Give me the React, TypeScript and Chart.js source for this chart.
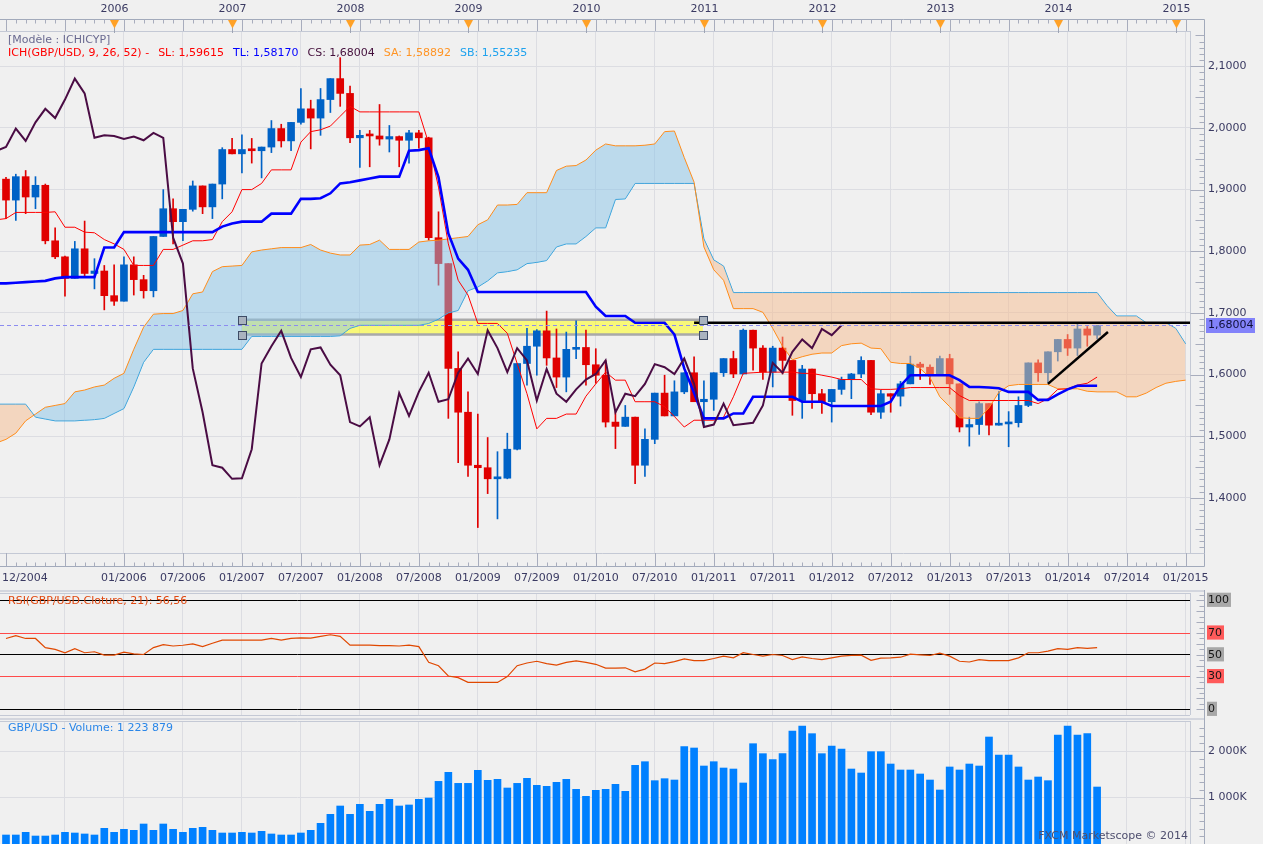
import React, { useEffect, useRef } from "react";
import { Chart, registerables } from "chart.js";

Chart.register(...registerables);

// ---------------- DATA (month index 0 = 01/2005) ----------------
const OPEN = [
  1.917, 1.883, 1.921, 1.888, 1.907, 1.817, 1.791, 1.756, 1.804, 1.764,
  1.768, 1.728, 1.719, 1.778, 1.754, 1.736, 1.824, 1.869, 1.848, 1.868,
  1.906, 1.872, 1.909, 1.965, 1.958, 1.965, 1.963, 1.969, 1.999, 1.979,
  2.009, 2.031, 2.016, 2.046, 2.080, 2.056, 1.984, 1.988, 1.987, 1.982,
  1.986, 1.980, 1.992, 1.984, 1.822, 1.780, 1.610, 1.539, 1.453, 1.449,
  1.431, 1.432, 1.479, 1.618, 1.646, 1.671, 1.627, 1.596, 1.641, 1.644,
  1.616, 1.599, 1.523, 1.516, 1.531, 1.453, 1.495, 1.570, 1.533, 1.572,
  1.603, 1.556, 1.560, 1.603, 1.626, 1.601, 1.672, 1.643, 1.604, 1.643,
  1.623, 1.558, 1.609, 1.569, 1.556, 1.576, 1.592, 1.601, 1.623, 1.539,
  1.569, 1.565, 1.585, 1.617, 1.612, 1.601, 1.626, 1.585, 1.515, 1.519,
  1.553, 1.518, 1.520, 1.522, 1.550, 1.619, 1.603, 1.637, 1.657, 1.643,
  1.674, 1.664,
];
const HIGH = [
  1.920, 1.925, 1.931, 1.921, 1.909, 1.838, 1.792, 1.816, 1.849, 1.788,
  1.777, 1.778, 1.791, 1.791, 1.761, 1.824, 1.900, 1.885, 1.868, 1.914,
  1.906, 1.909, 1.968, 1.983, 1.989, 1.983, 1.969, 2.012, 2.006, 2.009,
  2.064, 2.045, 2.064, 2.080, 2.114, 2.068, 1.996, 1.996, 2.038, 2.004,
  1.987, 1.996, 1.996, 1.985, 1.864, 1.780, 1.637, 1.572, 1.536, 1.498,
  1.475, 1.505, 1.618, 1.675, 1.673, 1.703, 1.674, 1.669, 1.687, 1.672,
  1.642, 1.623, 1.540, 1.550, 1.531, 1.512, 1.570, 1.599, 1.590, 1.603,
  1.629, 1.590, 1.603, 1.626, 1.638, 1.674, 1.672, 1.647, 1.646, 1.661,
  1.623, 1.615, 1.609, 1.576, 1.576, 1.596, 1.602, 1.629, 1.623, 1.575,
  1.569, 1.589, 1.630, 1.620, 1.616, 1.630, 1.633, 1.585, 1.531, 1.556,
  1.553, 1.573, 1.540, 1.564, 1.619, 1.624, 1.637, 1.657, 1.665, 1.683,
  1.678, 1.680,
];
const LOW = [
  1.853, 1.850, 1.861, 1.869, 1.812, 1.788, 1.727, 1.756, 1.758, 1.739,
  1.705, 1.712, 1.719, 1.729, 1.724, 1.726, 1.824, 1.812, 1.817, 1.865,
  1.861, 1.853, 1.885, 1.958, 1.927, 1.943, 1.919, 1.960, 1.969, 1.963,
  2.006, 1.966, 1.988, 2.025, 2.035, 1.976, 1.936, 1.937, 1.972, 1.961,
  1.937, 1.943, 1.967, 1.818, 1.745, 1.529, 1.457, 1.435, 1.352, 1.407,
  1.366, 1.431, 1.478, 1.583, 1.599, 1.615, 1.579, 1.572, 1.626, 1.583,
  1.586, 1.515, 1.480, 1.516, 1.423, 1.435, 1.488, 1.533, 1.533, 1.569,
  1.556, 1.515, 1.542, 1.597, 1.595, 1.601, 1.607, 1.592, 1.580, 1.601,
  1.534, 1.529, 1.545, 1.537, 1.523, 1.568, 1.561, 1.595, 1.535, 1.529,
  1.539, 1.549, 1.585, 1.592, 1.584, 1.601, 1.568, 1.507, 1.484, 1.503,
  1.502, 1.518, 1.483, 1.515, 1.548, 1.589, 1.587, 1.622, 1.631, 1.631,
  1.646, 1.658,
];
const CLOSE = [
  1.883, 1.921, 1.888, 1.907, 1.817, 1.791, 1.756, 1.804, 1.764, 1.768,
  1.728, 1.719, 1.778, 1.754, 1.736, 1.824, 1.869, 1.848, 1.868, 1.906,
  1.872, 1.909, 1.965, 1.958, 1.965, 1.963, 1.969, 1.999, 1.979, 2.009,
  2.031, 2.016, 2.046, 2.080, 2.056, 1.984, 1.988, 1.987, 1.982, 1.986,
  1.980, 1.992, 1.984, 1.822, 1.780, 1.610, 1.539, 1.453, 1.449, 1.431,
  1.432, 1.479, 1.618, 1.646, 1.671, 1.627, 1.596, 1.641, 1.644, 1.616,
  1.599, 1.523, 1.516, 1.531, 1.453, 1.495, 1.570, 1.533, 1.572, 1.603,
  1.556, 1.560, 1.603, 1.626, 1.601, 1.672, 1.643, 1.604, 1.643, 1.623,
  1.558, 1.609, 1.569, 1.556, 1.576, 1.592, 1.601, 1.623, 1.539, 1.569,
  1.565, 1.585, 1.617, 1.612, 1.601, 1.626, 1.585, 1.515, 1.519, 1.553,
  1.518, 1.520, 1.522, 1.550, 1.619, 1.603, 1.637, 1.657, 1.643, 1.674,
  1.664, 1.680,
];
const VOLUME_K = [
  194, 194, 251, 172, 172, 194, 251, 237, 216, 194,
  338, 251, 316, 295, 431, 295, 431, 316, 251, 338,
  359, 295, 237, 237, 251, 237, 273, 216, 194, 194,
  237, 295, 445, 639, 819, 639, 855, 704, 855, 963,
  819, 841, 963, 991, 1350, 1545, 1307, 1307, 1588, 1372,
  1394, 1207, 1307, 1415, 1264, 1243, 1329, 1394, 1178, 1027,
  1157, 1178, 1286, 1135, 1695, 1774, 1365, 1408, 1379, 2098,
  2069, 1681, 1774, 1638, 1616, 1315, 2162, 1947, 1817, 1947,
  2435, 2543, 2378, 1947, 2112, 2047, 1616, 1530, 1990, 1990,
  1724, 1595, 1595, 1509, 1379, 1164, 1660, 1595, 1724, 1681,
  2306, 1918, 1918, 1660, 1379, 1444, 1365, 2349, 2543, 2349,
  2378, 1228,
];
const RSI = [
  65.0, 67.5, 65.0, 65.0, 56.6, 55.0, 51.9, 55.6, 51.9, 52.8,
  49.7, 49.7, 52.5, 50.9, 50.3, 56.6, 59.4, 58.1, 58.8, 60.0,
  57.5, 60.6, 63.4, 63.4, 63.4, 63.4, 63.4, 65.0, 63.4, 65.0,
  65.6, 65.3, 66.9, 68.4, 66.9, 58.8, 58.8, 58.8, 58.4, 58.4,
  58.1, 58.8, 57.5, 43.1, 40.0, 30.6, 29.1, 24.7, 24.7, 24.7,
  24.7, 30.0, 40.0, 42.5, 44.1, 41.9, 40.6, 43.1, 44.4, 43.1,
  41.3, 37.8, 37.8, 38.1, 34.4, 36.9, 42.5, 41.9, 43.8, 46.3,
  44.7, 44.7, 46.6, 48.8, 47.2, 51.9, 50.3, 48.8, 50.3, 49.4,
  45.6, 48.1, 46.6, 45.6, 47.2, 48.8, 49.4, 49.7, 45.0, 46.9,
  47.2, 47.8, 50.6, 50.0, 49.4, 51.6, 48.8, 44.1, 43.4, 45.6,
  44.7, 44.7, 44.7, 47.2, 51.9, 51.9, 53.4, 55.6, 55.0, 56.6,
  55.9, 56.6,
];

// Ichimoku lines, first value is month -1 (12/2004)
const LINE_START = -1;
const TENKAN = [
  1.851, 1.853, 1.863, 1.863, 1.863, 1.863, 1.864, 1.839, 1.839, 1.831,
  1.830, 1.819, 1.812, 1.803, 1.777, 1.777, 1.777, 1.803, 1.803, 1.810,
  1.817, 1.817, 1.819, 1.848, 1.864, 1.900, 1.900, 1.910, 1.932, 1.932,
  1.932, 1.977, 1.994, 1.997, 2.003, 2.019, 2.035, 2.026, 2.026, 2.026,
  2.026, 2.026, 2.026, 2.026, 1.975, 1.904, 1.812, 1.753, 1.729, 1.683,
  1.683, 1.683, 1.667, 1.618, 1.569, 1.512, 1.529, 1.529, 1.536, 1.536,
  1.565, 1.585, 1.604, 1.591, 1.591, 1.556, 1.556, 1.556, 1.548, 1.532,
  1.515, 1.526, 1.526, 1.526, 1.531, 1.564, 1.602, 1.603, 1.604, 1.604,
  1.604, 1.604, 1.602, 1.602, 1.599, 1.596, 1.592, 1.592, 1.592, 1.577,
  1.576, 1.576, 1.577, 1.579, 1.579, 1.579, 1.579, 1.579, 1.566, 1.558,
  1.558, 1.558, 1.558, 1.558, 1.558, 1.558, 1.553, 1.561, 1.576, 1.577,
  1.583, 1.586, 1.596,
];
const KIJUN = [
  1.748, 1.748, 1.749, 1.750, 1.751, 1.752, 1.756, 1.758, 1.758, 1.758,
  1.758, 1.806, 1.806, 1.831, 1.831, 1.831, 1.831, 1.831, 1.831, 1.831,
  1.831, 1.831, 1.831, 1.840, 1.845, 1.848, 1.848, 1.848, 1.861, 1.861,
  1.861, 1.885, 1.885, 1.886, 1.894, 1.910, 1.912, 1.915, 1.918, 1.921,
  1.921, 1.921, 1.963, 1.964, 1.967, 1.920, 1.829, 1.788, 1.770, 1.734,
  1.734, 1.734, 1.734, 1.734, 1.734, 1.734, 1.734, 1.734, 1.734, 1.734,
  1.734, 1.710, 1.695, 1.695, 1.695, 1.684, 1.684, 1.684, 1.684, 1.665,
  1.610, 1.570, 1.529, 1.529, 1.529, 1.537, 1.537, 1.564, 1.564, 1.564,
  1.564, 1.564, 1.556, 1.556, 1.556, 1.549, 1.549, 1.549, 1.549, 1.549,
  1.549, 1.556, 1.582, 1.599, 1.599, 1.599, 1.599, 1.599, 1.591, 1.580,
  1.580, 1.579, 1.578, 1.572, 1.572, 1.572, 1.559, 1.559, 1.568, 1.576,
  1.582, 1.582, 1.582,
];
const SENKOU_A = [
  1.489, 1.495, 1.505, 1.525, 1.536, 1.547, 1.550, 1.553, 1.572, 1.575,
  1.580, 1.583, 1.594, 1.602, 1.641, 1.677, 1.698, 1.699, 1.699, 1.704,
  1.731, 1.734, 1.767, 1.775, 1.776, 1.777, 1.799, 1.802, 1.804, 1.806,
  1.806, 1.806, 1.811, 1.802, 1.797, 1.794, 1.794, 1.810, 1.811, 1.818,
  1.803, 1.803, 1.803, 1.815, 1.817, 1.818, 1.820, 1.822, 1.824, 1.843,
  1.851, 1.875, 1.875, 1.876, 1.895, 1.895, 1.895, 1.931, 1.938, 1.939,
  1.948, 1.964, 1.974, 1.971, 1.971, 1.971, 1.972, 1.974, 1.994, 1.995,
  1.952, 1.912, 1.807, 1.770, 1.753, 1.707, 1.707, 1.707, 1.701, 1.675,
  1.646, 1.624, 1.629, 1.633, 1.635, 1.635, 1.647, 1.650, 1.651, 1.643,
  1.642, 1.620, 1.618, 1.618, 1.610, 1.595, 1.564, 1.548, 1.530, 1.529,
  1.529, 1.546, 1.571, 1.582, 1.584, 1.584, 1.584, 1.584, 1.577, 1.577,
  1.577, 1.573, 1.572, 1.572, 1.572, 1.564, 1.564, 1.570, 1.579, 1.586,
  1.589, 1.591,
];
const SENKOU_B = [
  1.552, 1.552, 1.552, 1.552, 1.531, 1.528, 1.525, 1.525, 1.525, 1.526,
  1.527, 1.529, 1.537, 1.545, 1.580, 1.620, 1.641, 1.641, 1.641, 1.641,
  1.641, 1.641, 1.641, 1.641, 1.641, 1.641, 1.662, 1.662, 1.662, 1.662,
  1.662, 1.662, 1.662, 1.662, 1.662, 1.663, 1.675, 1.680, 1.680, 1.680,
  1.680, 1.680, 1.680, 1.680, 1.683, 1.690, 1.700, 1.704, 1.736, 1.742,
  1.752, 1.765, 1.767, 1.770, 1.780, 1.782, 1.785, 1.807, 1.812, 1.812,
  1.824, 1.838, 1.838, 1.884, 1.885, 1.910, 1.910, 1.910, 1.910, 1.910,
  1.910, 1.910, 1.820, 1.786, 1.776, 1.733, 1.733, 1.733, 1.733, 1.733,
  1.733, 1.733, 1.733, 1.733, 1.733, 1.733, 1.733, 1.733, 1.733, 1.733,
  1.733, 1.733, 1.733, 1.733, 1.733, 1.733, 1.733, 1.733, 1.733, 1.733,
  1.733, 1.733, 1.733, 1.733, 1.733, 1.733, 1.733, 1.733, 1.733, 1.733,
  1.733, 1.733, 1.733, 1.712, 1.695, 1.695, 1.695, 1.684, 1.684, 1.684,
  1.675, 1.650,
];
const CHIKOU_SHIFT = 26;

// labels & ticks
const YEAR_LABELS = ["2006", "2007", "2008", "2009", "2010", "2011", "2012", "2013", "2014", "2015"];
const DATE_LABELS = [
  "01/2006", "07/2006", "01/2007", "07/2007", "01/2008", "07/2008", "01/2009", "07/2009",
  "01/2010", "07/2010", "01/2011", "07/2011", "01/2012", "07/2012", "01/2013", "07/2013",
  "01/2014", "07/2014", "01/2015",
];
const UNLABELLED_GRID_DATES = ["07/2005"];
const FIRST_DATE_LABEL = "12/2004";
const PRICE_TICKS = [1.4, 1.5, 1.6, 1.7, 1.8, 1.9, 2.0, 2.1];
const RSI_LEVELS = [0, 30, 50, 70, 100];
const RSI_RED_LEVELS = [30, 70];
const VOLUME_TICKS = [1000, 2000];

// drawings on the chart
const ZONE = { from: 24, to: 70.9, low: 1.665, high: 1.689 };
const RESISTANCE = { from: 70, to: 121, price: 1.684 };
const TREND = { x1: 106, y1: 1.585, x2: 112.1, y2: 1.669 };
const LAST_PRICE = 1.68004;
const LEGEND_TITLE = "[Modèle : ICHICYP]";
const LEGEND_ITEMS = ["ICH(GBP/USD, 9, 26, 52) -", "SL: 1,59615", "TL: 1,58170", "CS: 1,68004", "SA: 1,58892", "SB: 1,55235"];
const RSI_TITLE = "RSI(GBP/USD.Cloture, 21): 56,56";
const VOLUME_TITLE = "GBP/USD - Volume: 1 223 879";
const COPYRIGHT = "FXCM Marketscope © 2014";

// ---------------- STYLE / LAYOUT ----------------
const W = 1263;
const AXIS_W = 73;
const X_MIN = -0.61;
const X_MAX = 120.45;
const PRICE_MIN = 1.3107;
const PRICE_MAX = 2.1572;
const BG = "#f0f0f0";
const GRID = "#dcdde2";
const FRAME = "#c4c9d5";
const AXIS_LINE = "#a2aabb";
const TEXT = "#3a3a62";
const FONT = '11px "DejaVu Sans"';
const BLUE = "#0062c6";
const RED = "#e00000";
const LEGEND_COLORS = ["#ff0000", "#ff0000", "#0000ff", "#44103c", "#ff9424", "#1ea2ee"];

Chart.defaults.font.family = '"DejaVu Sans", sans-serif';
Chart.defaults.font.size = 11;

const monthIndex = (label: string) => {
  const [m, y] = label.split("/").map(Number);
  return (y - 2005) * 12 + (m - 1);
};
const yearMarkerIndex = (label: string) => (Number(label) - 2005) * 12 - 1;
const fmtPrice = (v: number, d = 4) => v.toFixed(d).replace(".", ",");

function line(ctx: CanvasRenderingContext2D, x1: number, y1: number, x2: number, y2: number) {
  ctx.beginPath();
  ctx.moveTo(x1, y1);
  ctx.lineTo(x2, y2);
  ctx.stroke();
}
function text(ctx: CanvasRenderingContext2D, s: string, x: number, y: number, color: string, align: CanvasTextAlign = "left") {
  ctx.fillStyle = color;
  ctx.textAlign = align;
  ctx.textBaseline = "middle";
  ctx.font = FONT;
  ctx.fillText(s, x, y);
}

const noPad = (s: any) => {
  s.paddingTop = 0;
  s.paddingBottom = 0;
  s.paddingLeft = 0;
  s.paddingRight = 0;
};

const xAxis = () => ({
  type: "linear",
  min: X_MIN,
  max: X_MAX,
  offset: false,
  afterBuildTicks: (s: any) => {
    s.ticks = [...UNLABELLED_GRID_DATES, ...DATE_LABELS].map((l) => ({ value: monthIndex(l) }));
  },
  ticks: { display: false },
  grid: { color: GRID, drawTicks: false, lineWidth: 1, offset: false },
  border: { display: false },
  afterFit: (s: any) => {
    s.height = 0;
    noPad(s);
  },
});

function rightAxisFrame(ctx: CanvasRenderingContext2D, a: any, top: number, bottom: number) {
  ctx.strokeStyle = AXIS_LINE;
  ctx.lineWidth = 1;
  line(ctx, a.right + 14.5, top, a.right + 14.5, bottom);
  ctx.strokeStyle = FRAME;
  line(ctx, a.right + 0.5, a.top, a.right + 0.5, a.bottom);
  line(ctx, 0, a.top + 0.5, a.right, a.top + 0.5);
}

// ---------------- PRICE PANEL ----------------
const mainDecor = {
  id: "mainDecor",
  beforeDatasetsDraw(chart: any) {
    const { ctx, chartArea: a, scales } = chart;
    const x = scales.x, y = scales.y;
    ctx.save();
    ctx.beginPath();
    ctx.rect(a.left, a.top, a.right - a.left, a.bottom - a.top);
    ctx.clip();
    const x1 = x.getPixelForValue(ZONE.from), x2 = x.getPixelForValue(ZONE.to);
    const y1 = y.getPixelForValue(ZONE.high), y2 = y.getPixelForValue(ZONE.low);
    ctx.fillStyle = "rgba(255,255,0,0.5)";
    ctx.fillRect(x1, y1, x2 - x1, y2 - y1);
    ctx.strokeStyle = "#a9a9a9";
    ctx.lineWidth = 2.5;
    line(ctx, x1, y1, x2, y1);
    line(ctx, x1, y2, x2, y2);
    ctx.restore();
  },
  afterDatasetsDraw(chart: any) {
    const { ctx, chartArea: a, scales } = chart;
    const x = scales.x, y = scales.y;
    ctx.save();
    ctx.beginPath();
    ctx.rect(a.left, a.top, a.right - a.left, a.bottom - a.top);
    ctx.clip();
    // last price dashed line
    const py = Math.round(y.getPixelForValue(LAST_PRICE)) + 0.5;
    ctx.strokeStyle = "#8c8cf0";
    ctx.lineWidth = 1;
    ctx.setLineDash([4, 3]);
    line(ctx, a.left, py, a.right, py);
    ctx.setLineDash([]);
    // resistance
    ctx.strokeStyle = "#000";
    ctx.lineWidth = 2.5;
    const ry = y.getPixelForValue(RESISTANCE.price);
    line(ctx, x.getPixelForValue(RESISTANCE.from), ry, x.getPixelForValue(RESISTANCE.to), ry);
    // trend line
    line(ctx, x.getPixelForValue(TREND.x1), y.getPixelForValue(TREND.y1), x.getPixelForValue(TREND.x2), y.getPixelForValue(TREND.y2));
    ctx.restore();
    // handles of the zone
    ctx.save();
    ctx.fillStyle = "#a9b3bf";
    ctx.strokeStyle = "#3e4c66";
    ctx.lineWidth = 1;
    [ZONE.from, ZONE.to].forEach((m) => {
      [ZONE.high, ZONE.low].forEach((p) => {
        const hx = Math.round(x.getPixelForValue(m)) - 4 + 0.5;
        const hy = Math.round(y.getPixelForValue(p)) - 4 + 0.5;
        ctx.fillRect(hx, hy, 8, 8);
        ctx.strokeRect(hx, hy, 8, 8);
      });
    });
    ctx.restore();
  },
  afterDraw(chart: any) {
    const { ctx, chartArea: a, scales } = chart;
    const x = scales.x, y = scales.y;
    const axX = a.right + 14.5;
    const rulerTop = 19.5;
    const rulerBottom = a.bottom + 13.5;
    ctx.save();
    rightAxisFrame(ctx, a, rulerTop, rulerBottom);
    ctx.strokeStyle = AXIS_LINE;
    ctx.lineWidth = 1;
    line(ctx, 0, rulerTop, axX, rulerTop);
    line(ctx, 0, rulerBottom, axX, rulerBottom);
    ctx.strokeStyle = FRAME;
    line(ctx, 0, a.bottom + 0.5, axX, a.bottom + 0.5);
    // month ticks on both rulers
    ctx.strokeStyle = "#a8adbd";
    for (let m = -1; m <= 121; m++) {
      const px = Math.round(x.getPixelForValue(m)) + 0.5;
      if (px < 0 || px > a.right) continue;
      const half = m % 6 === 0;
      line(ctx, px, rulerTop, px, half ? a.top : rulerTop + 4);
      line(ctx, px, half ? a.bottom : rulerBottom - 4, px, rulerBottom);
    }
    // year markers
    YEAR_LABELS.forEach((lbl) => {
      const px = Math.round(x.getPixelForValue(yearMarkerIndex(lbl))) + 0.5;
      ctx.strokeStyle = "#9ea4b4";
      line(ctx, px, 26, px, a.top + 2);
      ctx.fillStyle = "#ffa126";
      ctx.beginPath();
      ctx.moveTo(px - 4.5, rulerTop + 0.5);
      ctx.lineTo(px + 4.5, rulerTop + 0.5);
      ctx.lineTo(px, rulerTop + 9);
      ctx.closePath();
      ctx.fill();
      text(ctx, lbl, px, 9, TEXT, "center");
    });
    // date labels under the price panel
    const ly = a.bottom + 25;
    text(ctx, FIRST_DATE_LABEL, 2, ly, TEXT, "left");
    DATE_LABELS.forEach((lbl) => text(ctx, lbl, x.getPixelForValue(monthIndex(lbl)), ly, TEXT, "center"));
    // right axis minor ticks
    ctx.strokeStyle = "#a8adbd";
    for (let k = Math.ceil(PRICE_MIN * 100); k <= Math.floor(PRICE_MAX * 100); k++) {
      const py = Math.round(y.getPixelForValue(k / 100)) + 0.5;
      const len = k % 10 === 0 ? 14 : k % 5 === 0 ? 9 : 5;
      line(ctx, axX - len, py, axX, py);
    }
    // last price box
    const py = Math.round(y.getPixelForValue(LAST_PRICE));
    ctx.fillStyle = "#8282fa";
    ctx.fillRect(axX + 1.5, py - 7, 49, 15);
    text(ctx, fmtPrice(LAST_PRICE, 5), axX + 3.5, py + 0.5, "#10103a", "left");
    // legend
    text(ctx, LEGEND_TITLE, 8, 40, "#6a6a90");
    ctx.font = FONT;
    let lx = 8;
    LEGEND_ITEMS.forEach((s, i) => {
      text(ctx, s, lx, 53, LEGEND_COLORS[i]);
      lx += ctx.measureText(s).width + 9;
    });
    ctx.restore();
  },
};

function priceConfig() {
  const idx = CLOSE.map((_, i) => i);
  const colors = idx.map((i) => (CLOSE[i] >= OPEN[i] ? BLUE : RED));
  const fromStart = (arr: number[]) => arr.map((v, k) => ({ x: LINE_START + k, y: v }));
  const chikou = CLOSE.map((c, i) => ({ x: i - CHIKOU_SHIFT, y: c })).filter((p) => p.x >= -1);
  const common = { pointRadius: 0, tension: 0, fill: false };
  return {
    type: "line",
    data: {
      datasets: [
        { ...common, type: "line", data: chikou, borderColor: "#4a0c44", borderWidth: 2, order: 0 },
        { ...common, type: "line", data: fromStart(KIJUN), borderColor: "#0000ff", borderWidth: 2.6, order: 1 },
        { ...common, type: "line", data: fromStart(TENKAN), borderColor: "#ff0000", borderWidth: 1, order: 2 },
        {
          ...common, type: "line", data: fromStart(SENKOU_A), borderColor: "#ff8c1a", borderWidth: 1, order: 3,
          fill: { target: 4, above: "rgba(135,196,232,0.5)", below: "rgba(245,188,142,0.5)" },
        },
        { ...common, type: "line", data: fromStart(SENKOU_B), borderColor: "#1a9ee6", borderWidth: 1, order: 4 },
        {
          type: "bar", data: idx.map((i) => ({ x: i, y: [OPEN[i], CLOSE[i]] })), backgroundColor: colors,
          barThickness: 7, minBarLength: 2, grouped: false, borderWidth: 0, order: 5,
        },
        {
          type: "bar", data: idx.map((i) => ({ x: i, y: [LOW[i], HIGH[i]] })), backgroundColor: colors,
          barThickness: 1, grouped: false, borderWidth: 0, order: 6,
        },
      ],
    },
    options: {
      animation: false,
      responsive: false,
      events: [],
      layout: { padding: { top: 31, bottom: 37, left: 0, right: 0 } },
      plugins: { legend: { display: false }, tooltip: { enabled: false } },
      scales: {
        x: xAxis(),
        y: {
          type: "linear",
          position: "right",
          min: PRICE_MIN,
          max: PRICE_MAX,
          afterBuildTicks: (s: any) => { s.ticks = PRICE_TICKS.map((v) => ({ value: v })); },
          ticks: { padding: 18, color: TEXT, font: { size: 11 }, callback: (v: any) => fmtPrice(Number(v)) },
          grid: { color: GRID, drawTicks: false },
          border: { display: false },
          afterFit: (s: any) => { s.width = AXIS_W; noPad(s); },
        },
      },
    },
    plugins: [mainDecor],
  };
}

// ---------------- RSI PANEL ----------------
const rsiDecor = {
  id: "rsiDecor",
  afterDraw(chart: any) {
    const { ctx, chartArea: a, scales } = chart;
    const y = scales.y;
    const axX = a.right + 14.5;
    ctx.save();
    ctx.strokeStyle = "#d3d6de";
    ctx.lineWidth = 2;
    line(ctx, 0, 1, axX, 1);
    rightAxisFrame(ctx, a, 0, chart.height);
    ctx.strokeStyle = FRAME;
    line(ctx, 0, a.bottom + 0.5, a.right, a.bottom + 0.5);
    ctx.strokeStyle = "#a8adbd";
    for (let v = -5; v <= 105; v += 5) {
      const py = Math.round(y.getPixelForValue(v)) + 0.5;
      if (py < a.top || py > a.bottom) continue;
      const len = v % 10 === 0 ? 8 : 5;
      line(ctx, axX - len, py, axX, py);
    }
    text(ctx, RSI_TITLE, 8, 11.5, "#e04810");
    ctx.restore();
  },
};

function rsiConfig() {
  return {
    type: "line",
    data: {
      datasets: [
        { type: "line", data: RSI.map((v, i) => ({ x: i, y: v })), borderColor: "#e04800", borderWidth: 1.2, pointRadius: 0, tension: 0, fill: false },
      ],
    },
    options: {
      animation: false,
      responsive: false,
      events: [],
      layout: { padding: { top: 3, bottom: 3, left: 0, right: 0 } },
      plugins: { legend: { display: false }, tooltip: { enabled: false } },
      scales: {
        x: xAxis(),
        y: {
          type: "linear",
          position: "right",
          min: -5.2,
          max: 106.7,
          afterBuildTicks: (s: any) => { s.ticks = RSI_LEVELS.map((v) => ({ value: v })); },
          ticks: {
            padding: 18,
            color: "#151515",
            font: { size: 11 },
            showLabelBackdrop: true,
            backdropColor: (c: any) => (RSI_RED_LEVELS.includes(c.tick?.value) ? "#ff5a5a" : "#a8a8a8"),
            backdropPadding: { top: 1, bottom: 0, left: 1, right: 2 },
            callback: (v: any) => String(v),
          },
          grid: {
            color: (c: any) => (RSI_RED_LEVELS.includes(c.tick?.value) ? "#ff4a4a" : "#000000"),
            drawTicks: false,
            lineWidth: 1,
          },
          border: { display: false },
          afterFit: (s: any) => { s.width = AXIS_W; noPad(s); },
        },
      },
    },
    plugins: [rsiDecor],
  };
}

// ---------------- VOLUME PANEL ----------------
const volDecor = {
  id: "volDecor",
  afterDraw(chart: any) {
    const { ctx, chartArea: a, scales } = chart;
    const y = scales.y;
    const axX = a.right + 14.5;
    ctx.save();
    ctx.strokeStyle = "#d3d6de";
    ctx.lineWidth = 2;
    line(ctx, 0, 1, axX, 1);
    rightAxisFrame(ctx, a, 0, chart.height);
    ctx.strokeStyle = "#a8adbd";
    for (let k = 1; k <= 16; k++) {
      const py = Math.round(y.getPixelForValue((k * 1000) / 6)) + 0.5;
      if (py < a.top) continue;
      line(ctx, axX - (k % 6 === 0 ? 14 : 5), py, axX, py);
    }
    text(ctx, VOLUME_TITLE, 8, 10.5, "#2a86e8");
    text(ctx, COPYRIGHT, a.right - 2, 118, "#4e4e6e", "right");
    ctx.restore();
  },
};

function volConfig() {
  return {
    type: "line",
    data: {
      datasets: [
        { type: "bar", data: VOLUME_K.map((v, i) => ({ x: i, y: v })), backgroundColor: "#0080ff", barThickness: 7, grouped: false, borderWidth: 0 },
      ],
    },
    options: {
      animation: false,
      responsive: false,
      events: [],
      layout: { padding: { top: 3, bottom: 0, left: 0, right: 0 } },
      plugins: { legend: { display: false }, tooltip: { enabled: false } },
      scales: {
        x: xAxis(),
        y: {
          type: "linear",
          position: "right",
          min: 0,
          max: 2651,
          afterBuildTicks: (s: any) => { s.ticks = VOLUME_TICKS.map((v) => ({ value: v })); },
          ticks: { padding: 18, color: TEXT, font: { size: 11 }, callback: (v: any) => `${Number(v) / 1000} 000K` },
          grid: { color: GRID, drawTicks: false },
          border: { display: false },
          afterFit: (s: any) => { s.width = AXIS_W; noPad(s); },
        },
      },
    },
    plugins: [volDecor],
  };
}

// ---------------- COMPONENTS ----------------
function Panel({ top, height, make }: { top: number; height: number; make: () => any }) {
  const ref = useRef<HTMLCanvasElement>(null);
  useEffect(() => {
    const chart = new Chart(ref.current as HTMLCanvasElement, make());
    return () => chart.destroy();
  }, []);
  return (
    <div style={{ position: "absolute", left: 0, top, width: W, height }}>
      <canvas ref={ref} width={W} height={height} style={{ display: "block", width: W, height }} />
    </div>
  );
}

export default function App() {
  useEffect(() => {
    document.body.style.margin = "0";
    document.body.style.background = BG;
    document.body.style.overflow = "hidden";
  }, []);
  return (
    <div style={{ position: "absolute", left: 0, top: 0, width: W, height: 844, background: BG, overflow: "hidden" }}>
      <Panel top={0} height={590} make={priceConfig} />
      <Panel top={590} height={128} make={rsiConfig} />
      <Panel top={718} height={126} make={volConfig} />
    </div>
  );
}
